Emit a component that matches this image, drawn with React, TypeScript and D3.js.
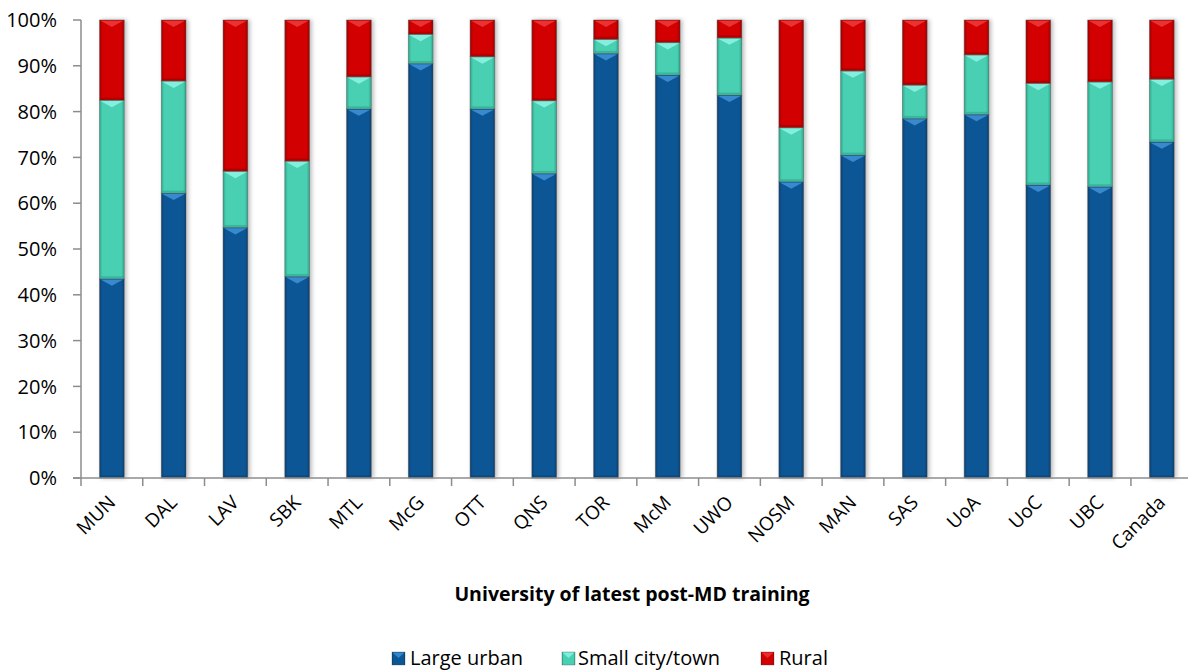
import * as d3 from "d3";

const categories = ["MUN", "DAL", "LAV", "SBK", "MTL", "McG", "OTT", "QNS", "TOR", "McM", "UWO", "NOSM", "MAN", "SAS", "UoA", "UoC", "UBC", "Canada"];
const largeUrban = [43.5, 62.2, 54.7, 44.0, 80.6, 90.5, 80.6, 66.5, 92.7, 88.0, 83.6, 64.7, 70.5, 78.5, 79.4, 64.0, 63.6, 73.4];
const smallTown = [39.0, 24.5, 12.3, 25.2, 7.0, 6.4, 11.4, 15.9, 3.1, 7.1, 12.5, 11.8, 18.4, 7.3, 13.0, 22.2, 22.9, 13.7];
const rural = [17.5, 13.3, 33.0, 30.8, 12.4, 3.1, 8.0, 17.6, 4.2, 4.9, 3.9, 23.5, 11.1, 14.2, 7.6, 13.8, 13.5, 12.9];
const yTicks = [0, 10, 20, 30, 40, 50, 60, 70, 80, 90, 100];

const seriesDefs = [
  { key: "urban", label: "Large urban", base: "#0b5796", dark: "#073f70", light: "#3f92d8" },
  { key: "small", label: "Small city/town", base: "#48d0b2", dark: "#2ea88c", light: "#8ff5e6" },
  { key: "rural", label: "Rural", base: "#d20000", dark: "#9c0000", light: "#f03a3a" },
];

const W = 1188;
const H = 670;
const FONT = "'Open Sans', sans-serif";

type Row = { name: string; urban: number; small: number; rural: number };

const rows: Row[] = categories.map((name, i) => ({
  name,
  urban: largeUrban[i],
  small: smallTown[i],
  rural: rural[i],
}));

// one stacked piece, with the beveled look of the original
function Segment({ x, y, w, h, s }: { x: number; y: number; w: number; h: number; s: (typeof seriesDefs)[number] }) {
  const b = Math.min(7, h / 2);
  return (
    <g>
      <rect x={x} y={y} width={w} height={h} fill={`url(#grad-${s.key})`} stroke="rgba(80,80,80,0.55)" strokeWidth={0.8} />
      {h > 2 && (
        <path
          d={`M${x + 1},${y + 0.8} L${x + w - 1},${y + 0.8} L${x + w / 2},${y + b} Z`}
          fill={s.light}
          opacity={0.85}
        />
      )}
      {h > 4 && <rect x={x + 1} y={y + h - 2.5} width={w - 2} height={2} fill={s.dark} opacity={0.6} />}
    </g>
  );
}

export default function App() {
  const left = 81;
  const band = 61.76;
  const top = 20;
  const bottom = 478;

  const x = d3
    .scaleBand<string>()
    .domain(categories)
    .range([left, left + band * categories.length])
    .padding(0);
  const y = d3.scaleLinear().domain([0, 100]).range([bottom, top]);

  const stack = d3.stack<Row>().keys(["urban", "small", "rural"]);
  const stacked = stack(rows);

  const barW = x.bandwidth() * 0.4;
  const xRight = left + band * categories.length;

  const legendItems = [
    { s: seriesDefs[0], mx: 392, tx: 410 },
    { s: seriesDefs[1], mx: 562, tx: 578 },
    { s: seriesDefs[2], mx: 761, tx: 779 },
  ];

  return (
    <div style={{ position: "absolute", left: 0, top: 0 }}>
      <svg width={W} height={H} style={{ display: "block", background: "#fff" }}>
        <defs>
          {seriesDefs.map((s) => (
            <linearGradient key={s.key} id={`grad-${s.key}`} x1="0" x2="1" y1="0" y2="0">
              <stop offset="0" stopColor={s.dark} />
              <stop offset="0.12" stopColor={s.base} />
              <stop offset="0.88" stopColor={s.base} />
              <stop offset="1" stopColor={s.dark} />
            </linearGradient>
          ))}
          <filter id="shadow" x="-30%" y="-5%" width="160%" height="110%">
            <feDropShadow dx="2" dy="0" stdDeviation="2.2" floodColor="#000" floodOpacity="0.28" />
          </filter>
        </defs>

        {/* y axis */}
        <line x1={left} x2={left} y1={top} y2={bottom} stroke="#8c8c8c" strokeWidth={1.5} />
        {yTicks.map((t) => (
          <g key={t}>
            <line x1={left - 8} x2={left} y1={y(t)} y2={y(t)} stroke="#8c8c8c" strokeWidth={1.5} />
            <text x={left - 24} y={y(t)} dy="0.36em" textAnchor="end" fontFamily={FONT} fontSize={20} fill="#000">
              {t}%
            </text>
          </g>
        ))}

        {/* bars */}
        <g filter="url(#shadow)">
          {stacked.map((layer, li) =>
            layer.map((d, i) => {
              const cx = (x(categories[i]) ?? 0) + x.bandwidth() / 2;
              const y0 = y(d[1]);
              const y1 = y(d[0]);
              return <Segment key={`${li}-${i}`} x={cx - barW / 2} y={y0} w={barW} h={y1 - y0} s={seriesDefs[li]} />;
            })
          )}
        </g>

        {/* x axis */}
        <line x1={left - 8} x2={xRight} y1={bottom} y2={bottom} stroke="#8c8c8c" strokeWidth={1.5} />
        {categories.map((c, i) => (
          <line key={`t${c}`} x1={left + i * band} x2={left + i * band} y1={bottom} y2={bottom + 8} stroke="#8c8c8c" strokeWidth={1.5} />
        ))}
        {categories.map((c) => {
          const cx = (x(c) ?? 0) + x.bandwidth() / 2;
          return (
            <text
              key={`l${c}`}
              transform={`translate(${cx},${bottom + 21}) rotate(-45)`}
              textAnchor="end"
              dy="0.35em"
              fontFamily={FONT}
              fontSize={19}
              fill="#000"
            >
              {c}
            </text>
          );
        })}

        {/* axis title */}
        <text x={632} y={601} textAnchor="middle" fontFamily={FONT} fontSize={19.5} fontWeight="bold" fill="#000">
          University of latest post-MD training
        </text>

        {/* legend */}
        {legendItems.map(({ s, mx, tx }) => (
          <g key={s.key}>
            <rect x={mx} y={652} width={13} height={13} fill={`url(#grad-${s.key})`} stroke="rgba(60,60,60,0.5)" strokeWidth={0.6} />
            <path d={`M${mx + 0.5},${652.5} L${mx + 12.5},${652.5} L${mx + 6.5},${658} Z`} fill={s.light} opacity={0.8} />
            <text x={tx} y={665} fontFamily={FONT} fontSize={20} fill="#000">
              {s.label}
            </text>
          </g>
        ))}
      </svg>
    </div>
  );
}
